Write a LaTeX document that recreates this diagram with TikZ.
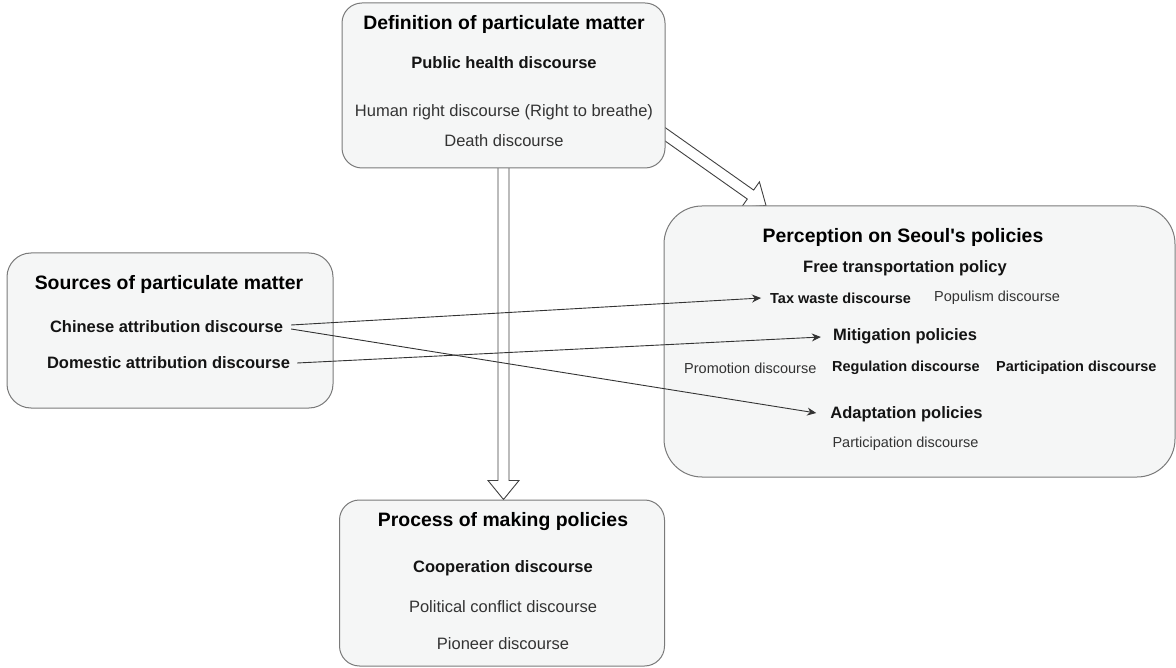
\documentclass[tikz,border=0pt]{standalone}
\usepackage{fontspec}
\setmainfont{Liberation Sans}[Ligatures=TeXOff]
\usetikzlibrary{calc,arrows.meta,backgrounds}
\definecolor{boxfill}{HTML}{F5F6F6}
\definecolor{boxline}{HTML}{7A7A7A}
\definecolor{txt}{HTML}{333333}
\tikzset{
 box/.style={draw=boxline, fill=boxfill, line width=1pt, inner sep=0pt},
 ttl/.style={font=\fontsize{19.4}{22}\selectfont\bfseries, text=black, inner sep=0pt},
 bt/.style={font=\fontsize{16.5}{19}\selectfont\bfseries, text=black!92, inner sep=0pt},
 rt/.style={font=\fontsize{16.5}{19}\selectfont, text=txt, inner sep=0pt},
 bs/.style={font=\fontsize{14.5}{17}\selectfont\bfseries, text=black!92, inner sep=0pt},
 rs/.style={font=\fontsize{14.5}{17}\selectfont, text=txt, inner sep=0pt},
 fat/.style={draw=black!75, fill=white, line width=0.9pt, line join=miter},
 thinarrow/.style={draw=black!80, line width=0.9pt, -{Stealth[length=9pt,width=8pt]}},
}
\newcommand{\fatarrow}[2]{%
 \coordinate (hb) at ($(#2)!19pt!(#1)$);
 \path[fat] ($(#1)!5.5pt!90:(#2)$) -- ($(hb)!5.5pt!90:(#2)$) -- ($(hb)!15.5pt!90:(#2)$)
   -- (#2) -- ($(hb)!15.5pt!-90:(#2)$) -- ($(hb)!5.5pt!-90:(#2)$) -- ($(#1)!5.5pt!-90:(#2)$);
}
\begin{document}
\begin{tikzpicture}[x=1pt,y=-1pt]
\useasboundingbox (0,0) rectangle (1176,668);

% boxes
\node[box, rounded corners=20pt, minimum width=323pt, minimum height=165pt] (top) at (503.5,85.5) {};
\node[box, rounded corners=38pt, minimum width=511pt, minimum height=271pt] (right) at (919.5,341.5) {};
\node[box, rounded corners=24pt, minimum width=326pt, minimum height=155pt] (left) at (170,330.5) {};
\node[box, rounded corners=20pt, minimum width=325pt, minimum height=166pt] (bottom) at (502,583) {};

% fat arrows (under the boxes)
\begin{pgfonlayer}{background}
\coordinate (v1) at ($(top.south)+(0,-10)$);
\coordinate (v2) at (top.south |- bottom.north);
\fatarrow{v1}{v2}
\coordinate (d1) at ($(top.east)+(-10,42)$);
\coordinate (d2) at ($(right.north)+(-153.5,0)$);
\fatarrow{d1}{d2}
\end{pgfonlayer}

% top box texts
\node[ttl] (t1) at (504,24) {Definition of particulate matter};
\node[bt] (t2) at (504,63) {Public health discourse};
\node[rt] (t3) at (504,112) {Human right discourse (Right to breathe)};
\node[rt] (t4) at (504,141) {Death discourse};

% right box texts
\node[ttl] (r1) at (903,237) {Perception on Seoul's policies};
\node[bt] (r2) at (905,268) {Free transportation policy};
\node[bs, anchor=west] (tax) at (770,298) {Tax waste discourse};
\node[rs, anchor=west] (pop) at (934,298) {Populism discourse};
\node[bt] (mit) at (905,336) {Mitigation policies};
\node[rs, anchor=west] (pro) at (684,368) {Promotion discourse};
\node[bs, anchor=west] (reg) at (832,368) {Regulation discourse};
\node[bs, anchor=west] (par) at (996,368) {Participation discourse};
\node[bt] (ada) at (906.5,414) {Adaptation policies};
\node[rs] (par2) at (905.5,444) {Participation discourse};

% left box texts
\node[ttl] (l1) at (169,284) {Sources of particulate matter};
\node[bt] (chn) at (166.5,327) {Chinese attribution discourse};
\node[bt] (dom) at (168.5,363) {Domestic attribution discourse};

% bottom box texts
\node[ttl] (b1) at (503,522) {Process of making policies};
\node[bt] (b2) at (503,568) {Cooperation discourse};
\node[rt] (b3) at (503,607) {Political conflict discourse};
\node[rt] (b4) at (503,644) {Pioneer discourse};

% thin arrows
\draw[thinarrow] ($(chn.east)+(8,-2)$) -- ($(tax.west)+(-9,0)$);
\draw[thinarrow] ($(chn.east)+(8,2)$) -- ($(ada.west)+(-14,-1)$);
\draw[thinarrow] ($(dom.east)+(7,0)$) -- ($(mit.west)+(-12,1)$);
\end{tikzpicture}
\end{document}
